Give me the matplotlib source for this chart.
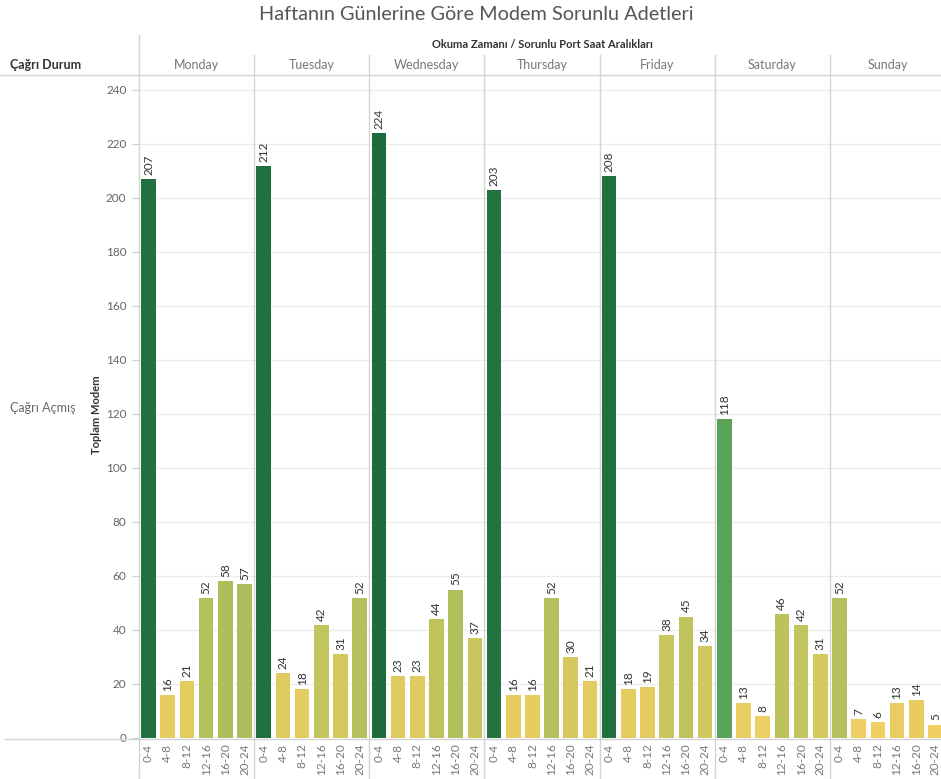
import matplotlib
matplotlib.use("Agg")
import matplotlib.pyplot as plt
from matplotlib.colors import LinearSegmentedColormap
from matplotlib.lines import Line2D
import numpy as np

plt.rcParams['font.family'] = ['Lato', 'DejaVu Sans']

days = ["Monday", "Tuesday", "Wednesday", "Thursday", "Friday", "Saturday", "Sunday"]
slots = ["0-4", "4-8", "8-12", "12-16", "16-20", "20-24"]

monday = [207, 16, 21, 52, 58, 57]
tuesday = [212, 24, 18, 42, 31, 52]
wednesday = [224, 23, 23, 44, 55, 37]
thursday = [203, 16, 16, 52, 30, 21]
friday = [208, 18, 19, 38, 45, 34]
saturday = [118, 13, 8, 46, 42, 31]
sunday = [52, 7, 6, 13, 14, 5]

series = [monday, tuesday, wednesday, thursday, friday, saturday, sunday]

W, H = 941, 779
fig = plt.figure(figsize=(W / 100, H / 100), dpi=100)

def fx(px):
    return px / W

def fy(py):
    return 1 - py / H

# gold-to-green colour scale by value
vmax = 224.0
cmap = LinearSegmentedColormap.from_list(
    "gold_green",
    [(0.0, "#f4d064"), (20 / vmax, "#e3cb5f"), (31 / vmax, "#d4c85f"),
     (45 / vmax, "#bec35c"), (55 / vmax, "#b0c05b"), (118 / vmax, "#5aa255"),
     (205 / vmax, "#21723f"), (1.0, "#1c6c3b")])

left_px, right_px, top_px, zero_px = 139, 945, 75, 738
ax = fig.add_axes([fx(left_px), fy(zero_px), fx(right_px) - fx(left_px), fy(top_px) - fy(zero_px)])
ymax = (zero_px - top_px) / 2.7
ax.set_ylim(0, ymax)
n = len(days) * len(slots)
ax.set_xlim(-0.5, n - 0.5)

values = [v for s in series for v in s]
xs = np.arange(n)
colors = [cmap(v / vmax) for v in values]
ax.bar(xs, values, width=0.76, color=colors, edgecolor="none", zorder=3)

for x, v in zip(xs, values):
    ax.text(x, v + 1.5, str(v), rotation=90, ha="center", va="bottom",
            fontsize=8.5, color="#333333", zorder=4)

ax.set_yticks(np.arange(0, 241, 20))
ax.set_yticklabels([str(t) for t in range(0, 241, 20)], fontsize=8.5, color="#666666")
ax.tick_params(axis="y", length=5, color="#d0d0d0", pad=4)
ax.yaxis.grid(True, color="#ececec", linewidth=0.9, zorder=0)

ax.set_xticks(xs)
ax.set_xticklabels(slots * len(days), rotation=90, fontsize=8.5, color="#777777",
                   va="top")
ax.tick_params(axis="x", length=0, pad=4)

for sp in ax.spines.values():
    sp.set_visible(False)

# frame lines drawn in figure space
line_col = "#d4d4d4"
fig.add_artist(Line2D([0, 1], [fy(75), fy(75)], color=line_col, lw=1.0))
fig.add_artist(Line2D([fx(5), 1], [fy(739), fy(739)], color=line_col, lw=1.0))
fig.add_artist(Line2D([fx(139), fx(139)], [fy(35), 0], color=line_col, lw=1.0))
slot_w = (right_px - left_px) / len(days)
for i in range(1, len(days)):
    xp = left_px + i * slot_w
    fig.add_artist(Line2D([fx(xp), fx(xp)], [fy(55), 0], color=line_col, lw=1.0))

# day headers
for i, d in enumerate(days):
    xc = left_px + (i + 0.5) * slot_w
    fig.text(fx(xc), fy(65), d, ha="center", va="center", fontsize=9, color="#777777")

fig.text(fx(10), fy(65), "Çağrı Durum", ha="left", va="center", fontsize=9,
         fontweight="bold", color="#333333")
fig.text(fx(542), fy(45), "Okuma Zamanı / Sorunlu Port Saat Aralıkları", ha="center",
         va="center", fontsize=8, fontweight="bold", color="#333333")
fig.text(fx(10), fy(408), "Çağrı Açmış", ha="left", va="center", fontsize=9, color="#666666")
fig.text(fx(97), fy(415), "Toplam Modem", ha="center", va="center", rotation=90,
         fontsize=8, fontweight="bold", color="#333333")
fig.text(fx(476), fy(15), "Haftanın Günlerine Göre Modem Sorunlu Adetleri", ha="center",
         va="center", fontsize=14.3, color="#555555")

fig.savefig("out.png", dpi=100)
